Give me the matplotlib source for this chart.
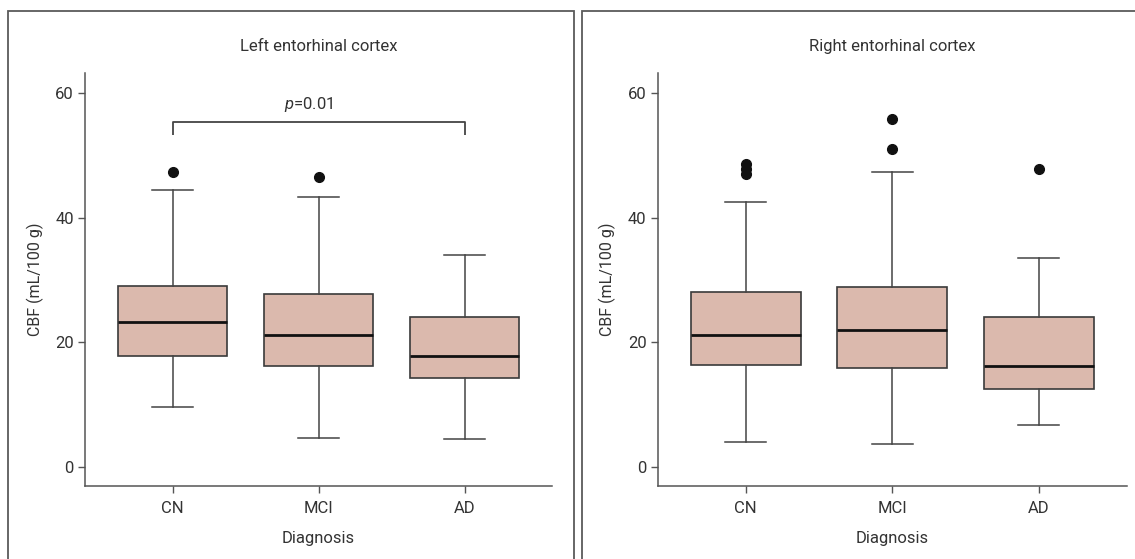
import matplotlib
matplotlib.use("Agg")
import matplotlib.pyplot as plt
from matplotlib.patches import Rectangle

groups = ["CN", "MCI", "AD"]

# Left entorhinal cortex (CBF, mL/100 g)
left_whislo = [9.6, 4.6, 4.4]
left_q1 = [17.8, 16.2, 14.3]
left_med = [23.2, 21.2, 17.8]
left_q3 = [29.0, 27.8, 24.1]
left_whishi = [44.4, 43.3, 34.0]
left_fliers = [[47.4], [46.6], []]

# Right entorhinal cortex (CBF, mL/100 g)
right_whislo = [4.0, 3.7, 6.7]
right_q1 = [16.3, 15.8, 12.5]
right_med = [21.1, 21.9, 16.2]
right_q3 = [28.1, 28.9, 24.1]
right_whishi = [42.5, 47.4, 33.6]
right_fliers = [[47.1, 47.9, 48.7], [51.0, 55.8], [47.8]]

yticks = [0, 20, 40, 60]
p_text = "$\\it{p}$=0.01"
bracket_y = 55.4
bracket_drop = 2.1

FONT = ["Roboto", "DejaVu Sans"]
plt.rcParams["font.family"] = FONT
plt.rcParams["mathtext.fontset"] = "custom"
plt.rcParams["mathtext.rm"] = "Roboto"
plt.rcParams["mathtext.it"] = "Roboto:italic"

BOX_FACE = "#dbb9ad"
AXIS_GRAY = "#555555"
TEXT = "#333333"


def make_stats(whislo, q1, med, q3, whishi, fliers):
    stats = []
    for i, name in enumerate(groups):
        stats.append(
            dict(
                label=name,
                whislo=whislo[i],
                q1=q1[i],
                med=med[i],
                q3=q3[i],
                whishi=whishi[i],
                fliers=fliers[i],
            )
        )
    return stats


def draw_panel(ax, stats, title):
    ax.bxp(
        stats,
        positions=range(len(groups)),
        widths=0.75,
        capwidths=0.28,
        patch_artist=True,
        boxprops=dict(facecolor=BOX_FACE, edgecolor="#3a3a3a", linewidth=1.2),
        medianprops=dict(color="#111111", linewidth=2.0),
        whiskerprops=dict(color="#444444", linewidth=1.1),
        capprops=dict(color="#444444", linewidth=1.1),
        flierprops=dict(
            marker="o",
            markerfacecolor="#111111",
            markeredgecolor="#111111",
            markersize=7,
        ),
    )
    ax.set_xlim(-0.6, 2.6)
    ax.set_ylim(-3.1, 63.3)
    ax.set_yticks(yticks)
    ax.set_xticks(range(len(groups)))
    ax.set_xticklabels(groups)

    for side in ["top", "right"]:
        ax.spines[side].set_visible(False)
    for side in ["left", "bottom"]:
        ax.spines[side].set_color(AXIS_GRAY)
        ax.spines[side].set_linewidth(1.1)

    ax.tick_params(
        axis="both",
        direction="out",
        length=5,
        width=1.0,
        color=AXIS_GRAY,
        labelcolor=TEXT,
        labelsize=12,
    )
    ax.tick_params(axis="y", pad=3)
    ax.tick_params(axis="x", pad=6)

    ax.set_xlabel("Diagnosis", fontsize=12, color=TEXT)
    ax.xaxis.set_label_coords(0.5, -0.108)
    ax.set_ylabel("CBF (mL/100 g)", fontsize=11.5, color=TEXT)
    ax.yaxis.set_label_coords(-0.088, 0.5)

    ax.text(
        0.5,
        1.063,
        title,
        transform=ax.transAxes,
        ha="center",
        va="center",
        fontsize=12,
        color=TEXT,
    )


fig = plt.figure(figsize=(11.35, 5.59), dpi=100)

ax_left = fig.add_axes([0.0749, 0.1306, 0.4117, 0.7393])
ax_right = fig.add_axes([0.5795, 0.1306, 0.4131, 0.7393])

draw_panel(
    ax_left,
    make_stats(left_whislo, left_q1, left_med, left_q3, left_whishi, left_fliers),
    "Left entorhinal cortex",
)
draw_panel(
    ax_right,
    make_stats(
        right_whislo, right_q1, right_med, right_q3, right_whishi, right_fliers
    ),
    "Right entorhinal cortex",
)

# significance bracket CN vs AD on the left panel
ax_left.plot(
    [0, 0, 2, 2],
    [bracket_y - bracket_drop, bracket_y, bracket_y, bracket_y - bracket_drop],
    color="#444444",
    linewidth=1.3,
    solid_capstyle="butt",
)
ax_left.text(0.93, bracket_y + 1.2, p_text, ha="center", va="bottom",
             fontsize=12, color=TEXT)

# panel frames
W, H = 1135.0, 559.0
for x0, x1 in [(8, 573.5), (581.5, 1140)]:
    fig.patches.append(
        Rectangle(
            (x0 / W, -0.05),
            (x1 - x0) / W,
            (H - 11) / H + 0.05,
            transform=fig.transFigure,
            fill=False,
            edgecolor="#5a5a5a",
            linewidth=1.3,
            clip_on=False,
        )
    )

fig.savefig("out.png", dpi=100)
